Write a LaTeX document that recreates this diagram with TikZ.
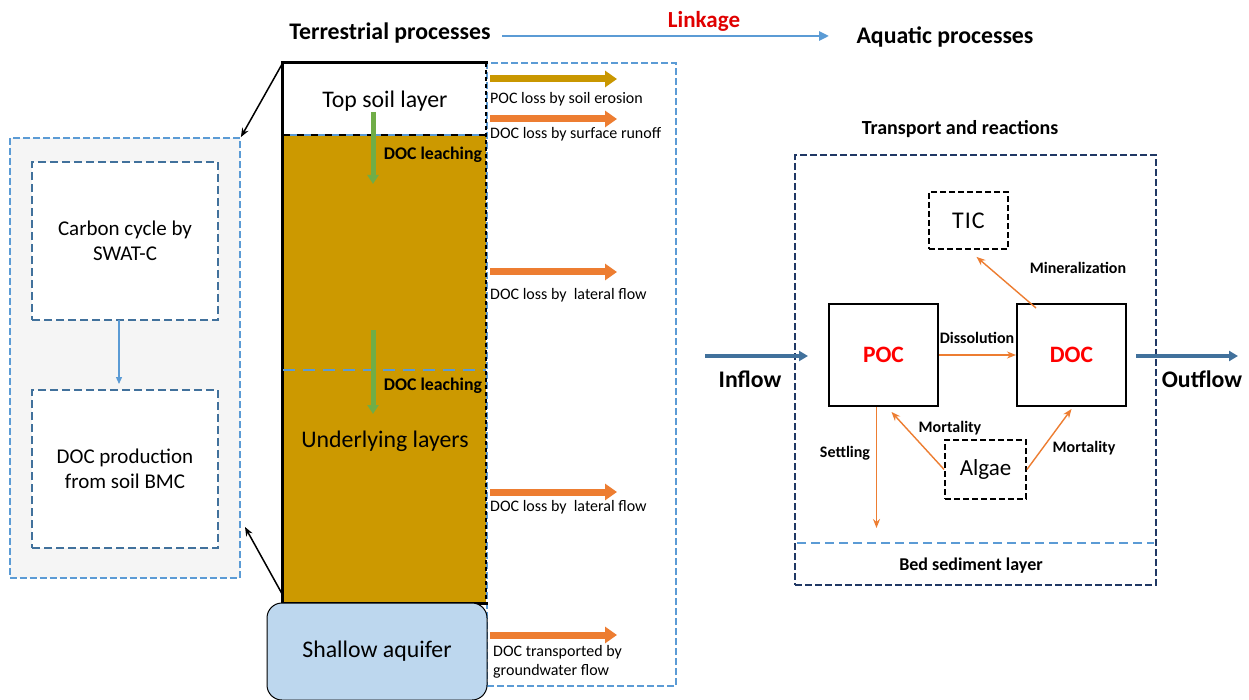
\documentclass[tikz,border=0pt]{standalone}
\usepackage{fontspec}
\setmainfont{Carlito}
\usetikzlibrary{arrows.meta,calc}
\definecolor{gold}{HTML}{C99700}
\definecolor{soil}{HTML}{CC9900}
\definecolor{orng}{HTML}{ED7D31}
\definecolor{grn}{HTML}{70AD47}
\definecolor{lblue}{HTML}{5B9BD5}
\definecolor{mblue}{HTML}{41719C}
\definecolor{dblue}{HTML}{203864}
\definecolor{aqua}{HTML}{BDD7EE}
\definecolor{panelgray}{HTML}{F5F5F5}
\definecolor{linkred}{HTML}{E00000}
\begin{document}
\begin{tikzpicture}[x=1pt,y=-1pt,
  bigtxt/.style={font=\fontsize{23.8}{26}\selectfont},
  hdr/.style={font=\bfseries\fontsize{23.8}{26}\selectfont},
  lbl/.style={font=\fontsize{16}{18.5}\selectfont, anchor=west, inner sep=0pt},
  blbl/.style={font=\bfseries\fontsize{16}{18}\selectfont, inner sep=0pt},
  blk/.style={line width=7pt, -{Triangle[length=12pt,width=16pt]}},
  oarr/.style={draw=orng, line width=1.4pt, -{Stealth[length=9pt,width=7pt]}},
  innerbox/.style={draw=mblue, line width=1.6pt, dash pattern=on 8pt off 4pt, fill=white, minimum width=186pt, minimum height=158pt, inner sep=0pt, align=center, font=\fontsize{21}{25}\selectfont},
  blackdash/.style={draw=black, line width=1.8pt, dash pattern=on 6pt off 3pt, fill=white, inner sep=0pt, font=\fontsize{23}{25}\selectfont},
  solidbox/.style={draw=black, line width=2pt, fill=white, minimum width=109pt, minimum height=102pt, inner sep=0pt, text=red, font=\bfseries\fontsize{23.5}{25}\selectfont}
]
\useasboundingbox (0,0) rectangle (1249,700);
\fill[white] (0,0) rectangle (1249,700);

% ---------------- header ----------------
\node[hdr] (terr) at (390,33) {Terrestrial processes};
\node[hdr] (aqua) at (945,37) {Aquatic processes};
\coordinate (lk1) at (502,36);
\coordinate (lk2) at (829,36);
\draw[draw=lblue, line width=2.5pt, -{Triangle[length=10pt,width=9pt]}] (lk1) -- (lk2);
\node[font=\bfseries\fontsize{23}{25}\selectfont, text=linkred] (link) at (704,21) {Linkage};

% ---------------- left panel ----------------
\node[draw=lblue, line width=1.8pt, dash pattern=on 7pt off 3pt, fill=panelgray, minimum width=230pt, minimum height=440pt, inner sep=0pt] (panel) at (125,358) {};
\node[innerbox] (swat) at (125,241) {Carbon cycle by\\SWAT-C};
\node[innerbox] (prod) at (125,469) {DOC production\\from soil BMC};
\draw[draw=lblue, line width=1.3pt, -{Triangle[length=7pt,width=6pt]}] (119,320) coordinate (sw1) -- (119,384) coordinate (sw2);

% ---------------- loss box ----------------
\node[draw=lblue, line width=1.8pt, dash pattern=on 7pt off 3pt, minimum width=189pt, minimum height=623pt, inner sep=0pt] (loss) at (581.5,374.5) {};

% ---------------- soil column ----------------
\node[fill=white, minimum width=203pt, minimum height=72pt, inner sep=0pt] (top) at (384.5,99) {};
\node[fill=soil, minimum width=203pt, minimum height=468pt, inner sep=0pt] (under) at (384.5,369) {};
\node[bigtxt] (toptxt) at (385,101) {Top soil layer};
\node[bigtxt] (undtxt) at (385,441) {Underlying layers};
% borders
\draw[line width=3pt, line cap=rect] (top.north east) -- (top.north west) -- (under.south west) -- (under.south east);
\draw[line width=2pt, dash pattern=on 4pt off 3pt] (top.north east) -- (under.south east);
\draw[draw=lblue, line width=2.5pt] (top.south west) -- (top.south east);
\draw[line width=2.5pt, dash pattern=on 7pt off 7pt] (top.south west) -- (top.south east);
\draw[draw=lblue, line width=2.5pt, dash pattern=on 12pt off 8pt] (283,370) coordinate (dl1) -- (486,370) coordinate (dl2);
% leaching arrows
\draw[draw=grn, line width=5pt, -{Triangle[length=9pt,width=11pt]}] (373,112) coordinate (g1) -- (373,184) coordinate (g2);
\draw[draw=grn, line width=5pt, -{Triangle[length=9pt,width=11pt]}] (373,330) coordinate (g3) -- (373,414) coordinate (g4);
\node[blbl, font=\bfseries\fontsize{17.8}{19}\selectfont] (leach1) at (433,155) {DOC leaching};
\node[blbl, font=\bfseries\fontsize{17.8}{19}\selectfont] (leach2) at (433,386) {DOC leaching};

% aquifer
\node[draw=black, line width=1pt, fill=aqua, rounded corners=15pt, minimum width=220pt, minimum height=97pt, inner sep=0pt, bigtxt] (aquif) at (377,651.5) {Shallow aquifer};

% zoom arrows
\coordinate (z2) at (245,527);
\draw[line width=1.5pt, -{Stealth[length=9pt,width=7pt]}] (top.north west) -- (panel.north east);
\draw[line width=1.5pt, -{Stealth[length=9pt,width=7pt]}] ($(under.south west)+(0,-8)$) -- (z2);

% loss arrows
\draw[blk, draw=gold, fill=gold] (490,79) coordinate (a1) -- (617,79) coordinate (b1);
\draw[blk, draw=orng, fill=orng] (490,119) coordinate (a2) -- (617,119) coordinate (b2);
\draw[blk, draw=orng, fill=orng] (490,272) coordinate (a3) -- (617,272) coordinate (b3);
\draw[blk, draw=orng, fill=orng] (490,492) coordinate (a4) -- (617,492) coordinate (b4);
\draw[blk, draw=orng, fill=orng] (490,635) coordinate (a5) -- (617,635) coordinate (b5);
\node[lbl] (l1) at (490,99) {POC loss by soil erosion};
\node[lbl] (l2) at (490,134) {DOC loss by surface runoff};
\node[lbl] (l3) at (490,295) {DOC loss by\ \ lateral flow};
\node[lbl] (l4) at (490,507) {DOC loss by\ \ lateral flow};
\node[lbl, align=left] (l5) at (493,662) {DOC transported by\\groundwater flow};

% ---------------- aquatic ----------------
\node[blbl, font=\bfseries\fontsize{20}{22}\selectfont] (trt) at (960,129) {Transport and reactions};
\node[draw=dblue, line width=1.8pt, dash pattern=on 7pt off 3pt, minimum width=361pt, minimum height=430pt, inner sep=0pt] (reach) at (975.5,370) {};
\draw[draw=lblue, line width=1.5pt, dash pattern=on 9pt off 5pt] (797,543) coordinate (s1) -- (1154,543) coordinate (s2);
\node[blbl, font=\bfseries\fontsize{18}{20}\selectfont] (bed) at (971,566) {Bed sediment layer};

\node[blackdash, minimum width=79pt, minimum height=57pt, font=\fontsize{24}{26}\selectfont] (tic) at (968.5,220.5) {T\kern1ptI\kern1ptC};
\node[solidbox] (poc) at (883.5,355) {POC};
\node[solidbox] (doc) at (1071.5,355) {DOC};
\node[blackdash, minimum width=81pt, minimum height=59pt] (alg) at (985.5,469.5) {Algae};

\draw[oarr] (poc.east) -- (doc.west);
\node[blbl] (diss) at (977,338) {Dissolution};
\draw[oarr] ($(doc.north west)+(20,5)$) coordinate (m1) -- ($(tic.south)+(8,7)$) coordinate (m2);
\node[blbl] (mine) at (1078,268) {Mineralization};
\draw[oarr] (alg.west) -- ($(poc.south)+(8,5)$) coordinate (m3);
\node[blbl] (mort1) at (950,428) {Mortality};
\draw[oarr] (alg.east) -- ($(doc.south)+(0,2)$) coordinate (m4);
\node[blbl] (mort2) at (1084,448) {Mortality};
\draw[oarr] ($(poc.south)+(-7,0)$) coordinate (st1) -- (876.5,528) coordinate (st2);
\node[blbl] (settle) at (845,453) {Settling};

% inflow / outflow
\draw[draw=mblue, line width=4pt, -{Triangle[length=9pt,width=10pt]}] (705,356) coordinate (in1) -- (808,356) coordinate (in2);
\node[hdr] (inflow) at (750,379) {Inflow};
\draw[draw=mblue, line width=4pt, -{Triangle[length=9pt,width=10pt]}] (1136,356) coordinate (out1) -- (1238,356) coordinate (out2);
\node[hdr] (outflow) at (1202,379) {Outflow};
\end{tikzpicture}
\end{document}
